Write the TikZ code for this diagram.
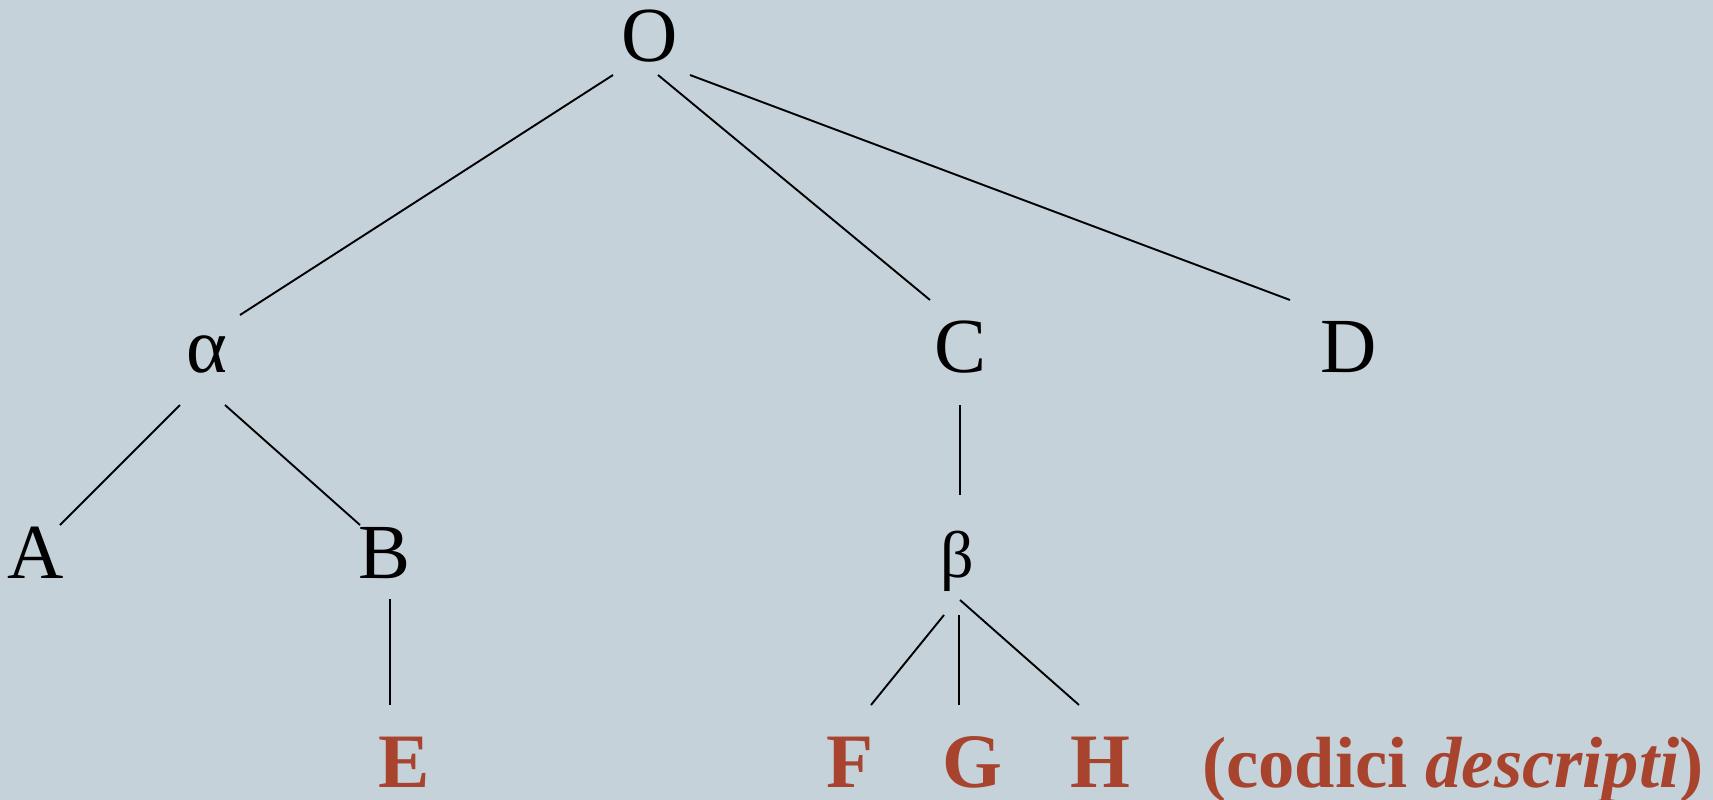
\documentclass[tikz,border=0pt]{standalone}
\usepackage{fontspec}
\setmainfont{Liberation Serif}
\usetikzlibrary{calc}
\definecolor{bg}{HTML}{C6D2D9}
\definecolor{redt}{HTML}{A8432D}
\begin{document}
\begin{tikzpicture}[x=1pt,y=-1pt,
  lbl/.style={inner sep=0pt,anchor=base,font=\fontsize{78}{90}\selectfont},
  rlbl/.style={inner sep=0pt,anchor=base,text=redt,font=\fontsize{77}{90}\selectfont\bfseries},
  edge/.style={line width=1.9pt,black}]
\fill[bg] (0,0) rectangle (1713,800);
\useasboundingbox (0,0) rectangle (1713,800);
\node[lbl] (O) at (650,62) {O};
\node[lbl] (al) at (207,372) {α};
\node[lbl] (C) at (961,372) {C};
\node[lbl] (D) at (1349,372) {D};
\node[lbl] (A) at (36,578) {A};
\node[lbl] (B) at (385,578) {B};
\node[lbl,font=\fontsize{66}{80}\selectfont] (be) at (957,577) {β};
\node[rlbl] (E) at (404,787) {E};
\node[rlbl] (F) at (850,787) {F};
\node[rlbl] (G) at (972,787) {G};
\node[rlbl] (H) at (1100,787) {H};
\node[rlbl,anchor=base west,font=\fontsize{72.5}{90}\selectfont\bfseries] (cd) at (1202,787) {(codici \textit{descripti})};
\draw[edge] ($(O.base)+(-37,13)$) -- ($(al.base)+(33,-57)$);
\draw[edge] ($(O.base)+(8,13)$) -- ($(C.base)+(-31,-72)$);
\draw[edge] ($(O.base)+(40,13)$) -- ($(D.base)+(-59,-72)$);
\draw[edge] ($(al.base)+(-27,33)$) -- ($(A.base)+(24,-53)$);
\draw[edge] ($(al.base)+(18,33)$) -- ($(B.base)+(-25,-53)$);
\draw[edge] ($(C.base)+(-1,33)$) -- ($(be.base)+(3,-82)$);
\draw[edge] ($(B.base)+(5,21)$) -- ($(E.base)+(-14,-82)$);
\draw[edge] ($(be.base)+(-13,38)$) -- ($(F.base)+(21,-82)$);
\draw[edge] ($(be.base)+(2,38)$) -- ($(G.base)+(-13,-82)$);
\draw[edge] ($(be.base)+(3,23)$) -- ($(H.base)+(-21,-82)$);
\end{tikzpicture}
\end{document}
